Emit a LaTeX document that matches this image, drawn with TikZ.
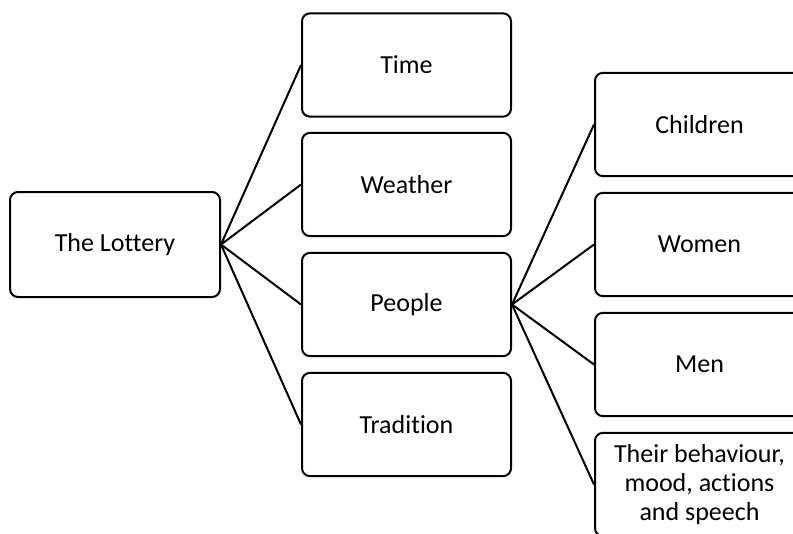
\documentclass[tikz,border=0pt]{standalone}
\usepackage{fontspec}
\setmainfont[Ligatures=NoCommon]{Carlito}
\tikzset{every picture/.style={line width=1.5pt}}
\tikzset{
  topicbox/.style={draw, rounded corners=6pt, minimum width=156.75pt, minimum height=77.5pt,
    inner sep=0pt, align=center, font=\fontsize{19.5}{22}\selectfont},
}
\begin{document}
\begin{tikzpicture}[x=0.75pt,y=0.75pt,yscale=-1,xscale=1]
    \useasboundingbox (0,0) rectangle (793,533);
    \clip (0,0) rectangle (793,533);

    %Root box
    \node [topicbox, minimum width=157.5pt, minimum height=78.75pt] (lottery) at (115,244.5) {The Lottery};

    %Middle column
    \node [topicbox] (time) at (406.5,65) {Time};
    \node [topicbox] (weather) at (406.5,184.5) {Weather};
    \node [topicbox] (people) at (406.5,304.5) {People};
    \node [topicbox] (tradition) at (406.5,424.5) {Tradition};

    %Right column
    \node [topicbox] (children) at (699.5,124.5) {Children};
    \node [topicbox] (women) at (699.5,244.5) {Women};
    \node [topicbox] (men) at (699.5,364.5) {Men};
    \node [topicbox] (behaviour) at (699.5,484.5) {Their behaviour,\\mood, actions\\and speech};

    %Connectors
    \foreach \n in {time,weather,people,tradition}
      \draw (lottery.east) -- (\n.west);
    \foreach \n in {children,women,men,behaviour}
      \draw (people.east) -- (\n.west);

\end{tikzpicture}
\end{document}
